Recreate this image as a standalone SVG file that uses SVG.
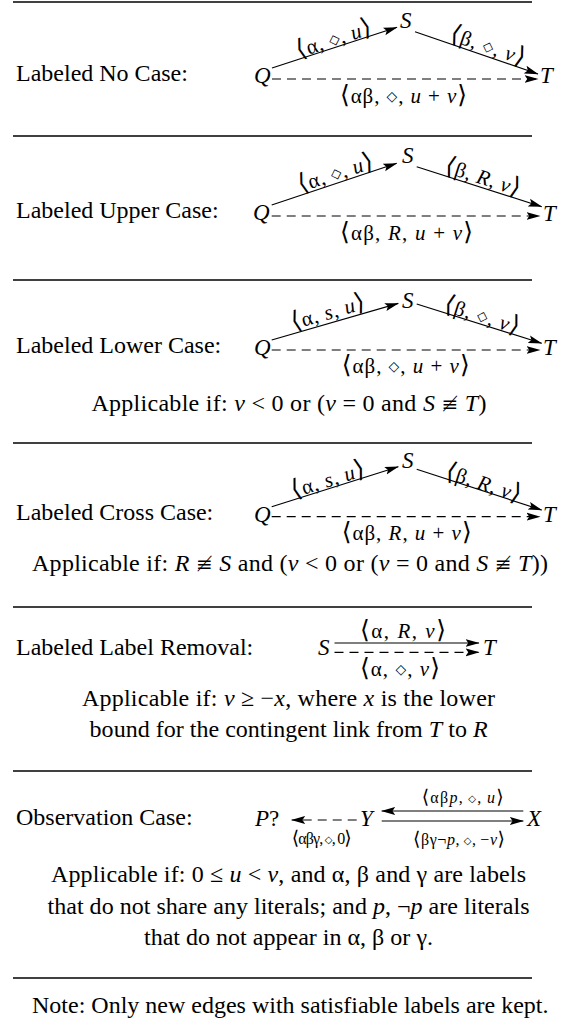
<svg xmlns="http://www.w3.org/2000/svg" width="571" height="1036" viewBox="0 0 571 1036">
<defs>
<marker id="ah" markerUnits="userSpaceOnUse" markerWidth="14" markerHeight="10" viewBox="0 0 13 8" refX="12.5" refY="4" orient="auto">
<path d="M0,0.3 L13,4 L0,7.7 L2.5,4 Z" fill="#000"/>
</marker>
<style>
.t{font-family:"Liberation Serif","DejaVu Serif",serif;font-size:24px;fill:#000}
.n{font-family:"Liberation Serif","DejaVu Serif",serif;font-style:italic;font-size:23px;fill:#000}
.lb{font-family:"Liberation Serif","DejaVu Serif",serif;font-size:21px;fill:#000}
.ls{font-family:"Liberation Serif","DejaVu Serif",serif;font-size:16px;fill:#000}
.i{font-style:italic}
.bk{font-family:"DejaVu Sans",sans-serif;font-size:25px}
.bs{font-family:"DejaVu Sans",sans-serif;font-size:19px}
.dm{font-family:"DejaVu Sans",sans-serif;font-size:14px}
.ds{font-family:"DejaVu Sans",sans-serif;font-size:10px}
.ne{font-family:"DejaVu Serif","DejaVu Sans",sans-serif;font-size:20px}
.e{stroke:#000;stroke-width:1.2;fill:none;marker-end:url(#ah)}
.d{stroke-dasharray:9 6}
.sep{stroke:#000;stroke-width:1.3}
</style>
</defs>
<rect width="571" height="1036" fill="#fff"/>

<g id="separators">
<line class="sep" x1="13" y1="2" x2="532" y2="2"/>
<line class="sep" x1="13" y1="136" x2="532" y2="136"/>
<line class="sep" x1="13" y1="280" x2="532" y2="280"/>
<line class="sep" x1="13" y1="443" x2="532" y2="443"/>
<line class="sep" x1="13" y1="607" x2="532" y2="607"/>
<line class="sep" x1="13" y1="771" x2="532" y2="771"/>
<line class="sep" x1="13" y1="978" x2="532" y2="978" stroke-width="1.6"/>
</g>

<g id="titles">
<text class="t" x="16" y="81">Labeled No Case:</text>
<text class="t" x="16" y="218">Labeled Upper Case:</text>
<text class="t" x="16" y="353">Labeled Lower Case:</text>
<text class="t" x="16" y="520">Labeled Cross Case:</text>
<text class="t" x="16" y="655">Labeled Label Removal:</text>
<text class="t" x="16" y="825">Observation Case:</text>
</g>

<g id="s1-Q"><text class="n" x="254" y="83">Q</text></g>
<g id="s1-S"><text class="n" x="400" y="28">S</text></g>
<g id="s1-T"><text class="n" x="540" y="83">T</text></g>
<g id="s2-Q"><text class="n" x="253" y="220">Q</text></g>
<g id="s2-S"><text class="n" x="402" y="163">S</text></g>
<g id="s2-T"><text class="n" x="543" y="221">T</text></g>
<g id="s3-Q"><text class="n" x="254" y="355">Q</text></g>
<g id="s3-S"><text class="n" x="402" y="308">S</text></g>
<g id="s3-T"><text class="n" x="543" y="355">T</text></g>
<g id="s4-Q"><text class="n" x="254" y="522">Q</text></g>
<g id="s4-S"><text class="n" x="402" y="468">S</text></g>
<g id="s4-T"><text class="n" x="543" y="522">T</text></g>
<g id="s5-S"><text class="n" x="318" y="655">S</text></g>
<g id="s5-T"><text class="n" x="483" y="655">T</text></g>
<g id="s6-P"><text class="n" x="255" y="826" font-size="24">P<tspan font-style="normal">?</tspan></text></g>
<g id="s6-Y"><text class="n" x="360" y="826" font-size="24">Y</text></g>
<g id="s6-X"><text class="n" x="527" y="826" font-size="24">X</text></g>

<g id="connectors">
<path class="e" d="M272,68 L397,27.3"/>
<path class="e" d="M415,31.7 L538,74"/>
<path class="e d" d="M272,79 L538,79"/>

<path class="e" d="M271.7,205 L396.7,163.3"/>
<path class="e" d="M416.7,166.7 L541.7,206.7"/>
<path class="e d" d="M271.7,216 L540,216"/>

<path class="e" d="M271.7,340 L398.3,303.3"/>
<path class="e" d="M416.7,304 L541.7,343.3"/>
<path class="e d" d="M271.7,350 L540,350"/>

<path class="e" d="M271.7,506.7 L398.3,466.7"/>
<path class="e" d="M416.7,469.3 L541.7,510"/>
<path class="e d" d="M271.7,516.7 L540,516.7"/>

<path class="e" d="M334.5,643 L479,643"/>
<path class="e d" d="M334.5,652.3 L479,652.3"/>

<path class="e d" d="M356.7,820 L291.7,820" stroke-dasharray="8 7"/>
<path class="e" d="M523.3,811 L381.7,811"/>
<path class="e" d="M381.7,821 L523.3,821"/>
</g>

<g id="edge-labels">
<text class="lb" x="340" y="103" textLength="127"><tspan class="bk">⟨</tspan>αβ, <tspan class="dm" dy="-2">◇</tspan><tspan dy="2">,</tspan> <tspan class="i">u</tspan> + <tspan class="i">v</tspan><tspan class="bk">⟩</tspan></text>
<text class="lb" transform="translate(334,40) rotate(-18.2)" x="-39" y="6" textLength="78"><tspan class="bk">⟨</tspan>α, <tspan class="dm" dy="-2">◇</tspan><tspan dy="2">,</tspan> <tspan class="i">u</tspan><tspan class="bk">⟩</tspan></text>
<text class="lb" transform="translate(487.5,47) rotate(18.9)" x="-39" y="6" textLength="78"><tspan class="bk">⟨</tspan>β, <tspan class="dm" dy="-2">◇</tspan><tspan dy="2">,</tspan> <tspan class="i">v</tspan><tspan class="bk">⟩</tspan></text>

<text class="lb" x="340" y="240" textLength="133"><tspan class="bk">⟨</tspan>αβ, <tspan class="i">R</tspan>, <tspan class="i">u</tspan> + <tspan class="i">v</tspan><tspan class="bk">⟩</tspan></text>
<text class="lb" transform="translate(335.8,174.2) rotate(-18.45)" x="-39" y="6" textLength="78"><tspan class="bk">⟨</tspan>α, <tspan class="dm" dy="-2">◇</tspan><tspan dy="2">,</tspan> <tspan class="i">u</tspan><tspan class="bk">⟩</tspan></text>
<text class="lb" transform="translate(482.5,178.3) rotate(17.7)" x="-39" y="6" textLength="78"><tspan class="bk">⟨</tspan>β, <tspan class="i">R</tspan>, <tspan class="i">v</tspan><tspan class="bk">⟩</tspan></text>

<text class="lb" x="341.7" y="373" textLength="128"><tspan class="bk">⟨</tspan>αβ, <tspan class="dm" dy="-2">◇</tspan><tspan dy="2">,</tspan> <tspan class="i">u</tspan> + <tspan class="i">v</tspan><tspan class="bk">⟩</tspan></text>
<text class="lb" transform="translate(328.3,313.3) rotate(-16.2)" x="-38" y="6" textLength="76"><tspan class="bk">⟨</tspan>α, <tspan class="i">s</tspan>, <tspan class="i">u</tspan><tspan class="bk">⟩</tspan></text>
<text class="lb" transform="translate(481.7,316.7) rotate(17.5)" x="-39" y="6" textLength="78"><tspan class="bk">⟨</tspan>β, <tspan class="dm" dy="-2">◇</tspan><tspan dy="2">,</tspan> <tspan class="i">v</tspan><tspan class="bk">⟩</tspan></text>

<text class="lb" x="341.7" y="540" textLength="130"><tspan class="bk">⟨</tspan>αβ, <tspan class="i">R</tspan>, <tspan class="i">u</tspan> + <tspan class="i">v</tspan><tspan class="bk">⟩</tspan></text>
<text class="lb" transform="translate(328.3,480.8) rotate(-17.5)" x="-38" y="6" textLength="76"><tspan class="bk">⟨</tspan>α, <tspan class="i">s</tspan>, <tspan class="i">u</tspan><tspan class="bk">⟩</tspan></text>
<text class="lb" transform="translate(483.3,484.2) rotate(18)" x="-39" y="6" textLength="78"><tspan class="bk">⟨</tspan>β, <tspan class="i">R</tspan>, <tspan class="i">v</tspan><tspan class="bk">⟩</tspan></text>

<text class="lb" x="360" y="638" textLength="86"><tspan class="bk">⟨</tspan>α, <tspan class="i">R</tspan>, <tspan class="i">v</tspan><tspan class="bk">⟩</tspan></text>
<text class="lb" x="360" y="676" textLength="80"><tspan class="bk">⟨</tspan>α, <tspan class="dm" dy="-2">◇</tspan><tspan dy="2">,</tspan> <tspan class="i">v</tspan><tspan class="bk">⟩</tspan></text>

<text class="ls" x="421.7" y="803" textLength="82"><tspan class="bs">⟨</tspan>αβ<tspan class="i">p</tspan>,&#8201;<tspan class="ds" dy="-1.5">◇</tspan><tspan dy="1.5">,</tspan>&#8201;<tspan class="i">u</tspan><tspan class="bs">⟩</tspan></text>
<text class="ls" x="291.7" y="844" textLength="60"><tspan class="bs">⟨</tspan>αβγ,&#8201;<tspan class="ds" dy="-1.5">◇</tspan><tspan dy="1.5">,</tspan>&#8201;0<tspan class="bs">⟩</tspan></text>
<text class="ls" x="413" y="845" textLength="92"><tspan class="bs">⟨</tspan>βγ¬<tspan class="i">p</tspan>,&#8201;<tspan class="ds" dy="-1.5">◇</tspan><tspan dy="1.5">,</tspan>&#8201;−<tspan class="i">v</tspan><tspan class="bs">⟩</tspan></text>
</g>

<g id="conditions">
<text class="t" x="91.4" y="411" textLength="395">Applicable if: <tspan class="i">v</tspan> &lt; 0 or (<tspan class="i">v</tspan> = 0 and <tspan class="i">S</tspan> <tspan class="ne">≢</tspan> <tspan class="i">T</tspan>)</text>
<text class="t" x="32" y="571" textLength="516">Applicable if: <tspan class="i">R</tspan> <tspan class="ne">≢</tspan> <tspan class="i">S</tspan> and (<tspan class="i">v</tspan> &lt; 0 or (<tspan class="i">v</tspan> = 0 and <tspan class="i">S</tspan> <tspan class="ne">≢</tspan> <tspan class="i">T</tspan>))</text>
<text class="t" x="82" y="706" textLength="413">Applicable if: <tspan class="i">v</tspan> ≥ −<tspan class="i">x</tspan>, where <tspan class="i">x</tspan> is the lower</text>
<text class="t" x="89.6" y="737" textLength="398">bound for the contingent link from <tspan class="i">T</tspan> to <tspan class="i">R</tspan></text>
<text class="t" x="51" y="882" textLength="475">Applicable if: 0 ≤ <tspan class="i">u</tspan> &lt; <tspan class="i">v</tspan>, and α, β and γ are labels</text>
<text class="t" x="47.5" y="913.5" textLength="482">that do not share any literals; and <tspan class="i">p</tspan>, ¬<tspan class="i">p</tspan> are literals</text>
<text class="t" x="144" y="945" textLength="289">that do not appear in α, β or γ.</text>
<text class="t" x="32" y="1013">Note: Only new edges with satisfiable labels are kept.</text>
</g>
</svg>
